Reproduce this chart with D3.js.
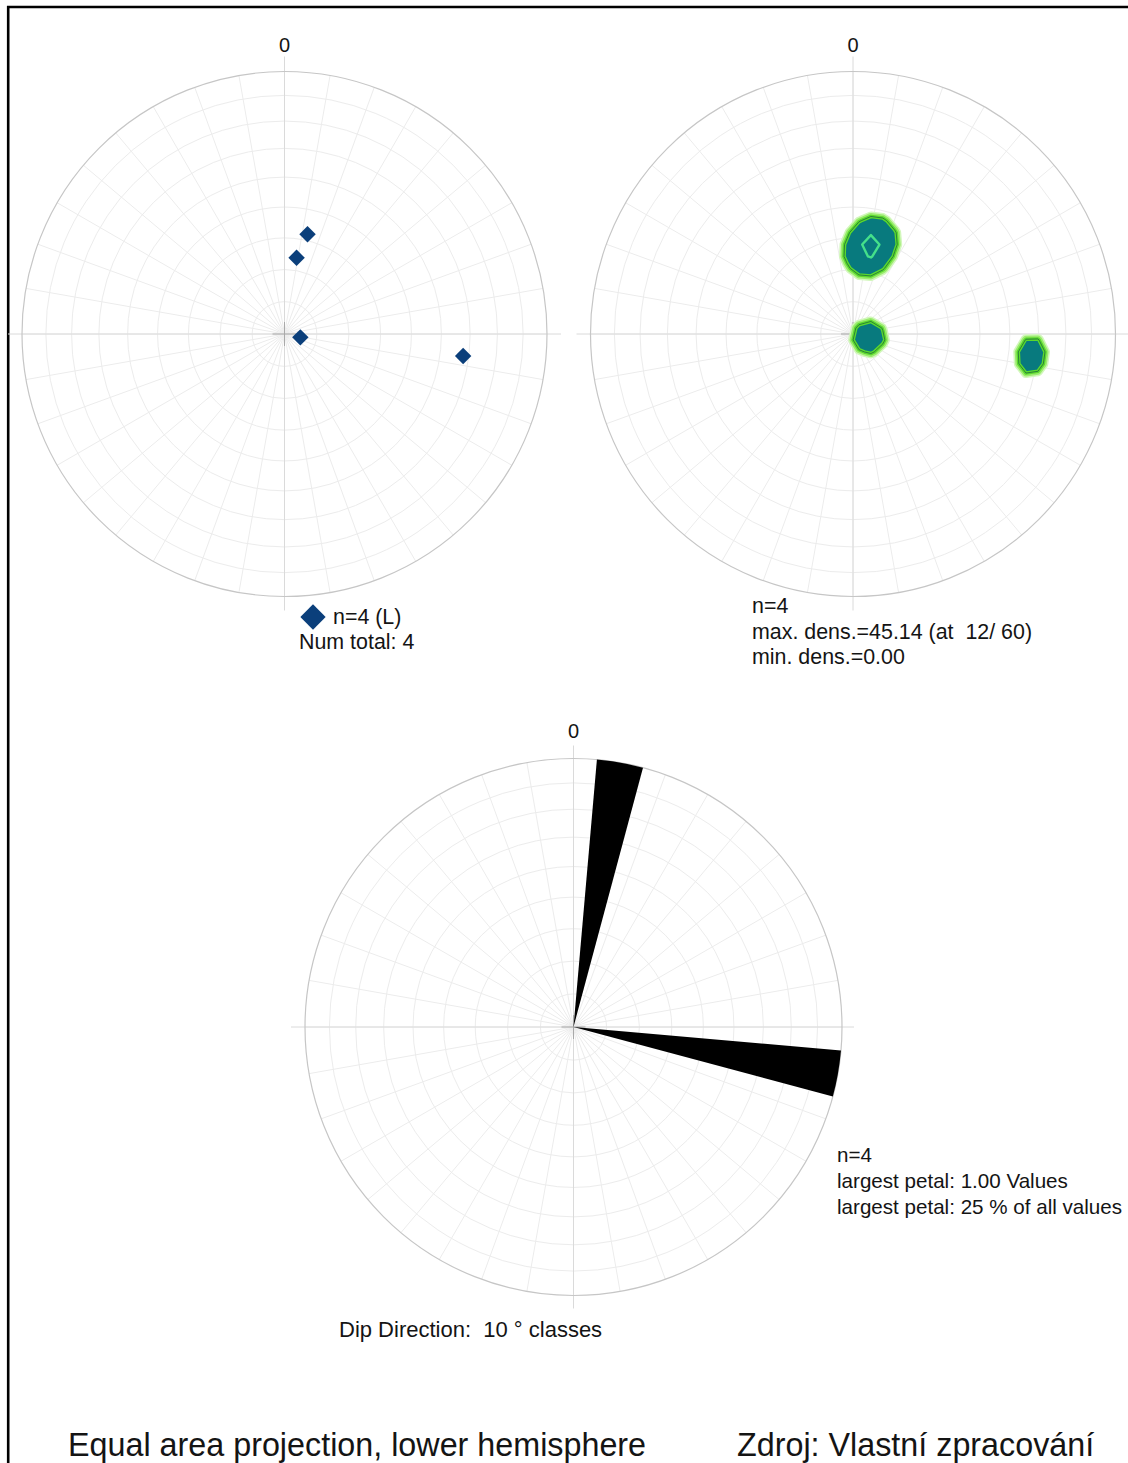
<!DOCTYPE html>
<html>
<head>
<meta charset="utf-8">
<script src="https://cdn.jsdelivr.net/npm/d3@7"></script>
<style>
  html, body { margin: 0; padding: 0; background: #fff; }
  svg { display: block; font-family: "Liberation Sans", Arial, sans-serif; }
  text { white-space: pre; fill: #141414; }
</style>
</head>
<body>
<svg id="fig" width="1128" height="1463"></svg>
<script>
// Lineation measurements (trend / plunge, degrees)
const lineTrend  = [13, 9, 102, 97];
const linePlunge = [58, 66, 85, 32];

// Density contours: levels and the reported extremes
const densityLevels = [20, 40];
const densityMax = 45.14;
const densityMin = 0.00;
const densityMaxAt = "12/ 60";

// Rose diagram of dip directions: class centres and counts per class
const classWidth = 10;
const petalCentres = [10, 100];
const petalCounts  = [1.00, 1.00];

// Net graticule: small circles every 10 deg from the centre, radials every 10 deg
const dipRings = d3.range(10, 90, 10);
const azimuths = d3.range(0, 360, 10);
const northLabel = "0";

const svg = d3.select("#fig");
const rad = Math.PI / 180;

// Equal-area (Schmidt) radial mapping: angle from vertical -> fraction of net radius
const eqArea = d3.scaleLinear().domain([0, 1]);
function eqFrac(angleFromVertical) {
  return Math.SQRT2 * Math.sin(angleFromVertical * rad / 2);
}

function drawNet(g, cx, cy, R, ext) {
  const rScale = eqArea.copy().range([0, R]);
  const grid = g.append("g").attr("fill", "none").attr("stroke", "#ececec").attr("stroke-width", 1);
  grid.selectAll("circle").data(dipRings).join("circle")
    .attr("cx", cx).attr("cy", cy)
    .attr("r", d => rScale(eqFrac(d)));
  grid.selectAll("line").data(azimuths).join("line")
    .attr("x1", cx).attr("y1", cy)
    .attr("x2", d => cx + R * Math.sin(d * rad))
    .attr("y2", d => cy - R * Math.cos(d * rad));

  // main axes reaching past the primitive circle
  const axes = g.append("g").attr("stroke", "#dadada").attr("stroke-width", 1);
  axes.append("line").attr("x1", cx).attr("x2", cx).attr("y1", cy - R - ext[0]).attr("y2", cy + R + ext[2]);
  axes.append("line").attr("x1", cx - R - ext[3]).attr("x2", cx + R + ext[1]).attr("y1", cy).attr("y2", cy);

  g.append("circle").attr("cx", cx).attr("cy", cy).attr("r", R)
    .attr("fill", "none").attr("stroke", "#c6c6c6").attr("stroke-width", 1.2);

  // centre cross
  const c = g.append("g").attr("stroke", "#a9a9a9").attr("stroke-width", 1);
  c.append("line").attr("x1", cx - 12).attr("x2", cx + 12).attr("y1", cy).attr("y2", cy);
  c.append("line").attr("x1", cx).attr("x2", cx).attr("y1", cy - 12).attr("y2", cy + 12);
}

function project(trend, plunge, cx, cy, R) {
  const rr = R * eqFrac(90 - plunge);
  return [cx + rr * Math.sin(trend * rad), cy - rr * Math.cos(trend * rad)];
}

function label(x, y, str, size, anchor) {
  return svg.append("text").attr("x", x).attr("y", y)
    .attr("font-size", size).attr("text-anchor", anchor || "start").text(str);
}

// ---------- frame ----------
svg.append("path").attr("d", "M8.2,1463 V7 H1128")
  .attr("fill", "none").attr("stroke", "#000").attr("stroke-width", 2.6);

// ---------- net 1: lineation poles ----------
const n1 = { cx: 284.5, cy: 334, R: 262.5 };
const g1 = svg.append("g");
drawNet(g1, n1.cx, n1.cy, n1.R, [15, 14, 14, 14]);
const diamond = d3.symbol().type(d3.symbolSquare);
g1.selectAll("path.pt").data(lineTrend).join("path").attr("class", "pt")
  .attr("d", diamond.size(135)())
  .attr("fill", "#0b3f7b")
  .attr("transform", (d, i) => {
    const [x, y] = project(d, linePlunge[i], n1.cx, n1.cy, n1.R);
    return `translate(${x},${y}) rotate(45)`;
  });
label(n1.cx, 52, northLabel, 20, "middle");
svg.append("path").attr("d", d3.symbol().type(d3.symbolSquare).size(320)())
  .attr("fill", "#0b3f7b").attr("transform", "translate(313,617) rotate(45)");
label(333, 624, `n=${lineTrend.length} (L)`, 21.4);
label(299, 649, `Num total: ${lineTrend.length}`, 21.4);

// ---------- net 2: density contours ----------
const n2 = { cx: 853, cy: 334, R: 262.5 };
const g2 = svg.append("g");
drawNet(g2, n2.cx, n2.cy, n2.R, [15, 20, 14, 14]);

const N = 44;
const kappa2 = 0.0104; // kernel width (rad^2)
const poles = lineTrend.map((t, i) => {
  const p = linePlunge[i] * rad, tr = t * rad;
  return [Math.cos(p) * Math.sin(tr), Math.cos(p) * Math.cos(tr), Math.sin(p)];
});
const grid = new Array(N * N).fill(0);
for (let j = 0; j < N; j++) {
  for (let i = 0; i < N; i++) {
    const ux = -1 + (i + 0.5) * 2 / N, uy = 1 - (j + 0.5) * 2 / N;
    const r = Math.hypot(ux, uy);
    if (r > 1) continue;
    const th = 2 * Math.asin(r / Math.SQRT2);
    const tr = Math.atan2(ux, uy);
    const v = [Math.sin(th) * Math.sin(tr), Math.sin(th) * Math.cos(tr), Math.cos(th)];
    let s = 0;
    for (const p of poles) {
      const dot = Math.abs(v[0] * p[0] + v[1] * p[1] + v[2] * p[2]);
      s += Math.exp((dot - 1) / kappa2);
    }
    grid[j * N + i] = s;
  }
}
const gmax = d3.max(grid);
const dens = grid.map(v => v / gmax * densityMax);
const contours = d3.contours().size([N, N]).thresholds(densityLevels)(dens);
const step = 2 * n2.R / N;
const toPx = d3.geoTransform({
  point(x, y) { this.stream.point(n2.cx - n2.R + x * step, n2.cy - n2.R + y * step); }
});
const cpath = d3.geoPath(toPx);
const outer = contours[0], inner = contours[1];
const blobs = g2.append("g").attr("stroke-linejoin", "round");
blobs.append("path").attr("d", cpath(outer)).attr("fill", "none")
  .attr("stroke", "#d2f7bc").attr("stroke-width", 10);
blobs.append("path").attr("d", cpath(outer)).attr("fill", "none")
  .attr("stroke", "#9bec6e").attr("stroke-width", 7);
blobs.append("path").attr("d", cpath(outer)).attr("fill", "#087a7e")
  .attr("stroke", "#5ad92c").attr("stroke-width", 3.6);
blobs.append("path").attr("d", cpath(outer)).attr("fill", "none")
  .attr("stroke", "#1f6a3c").attr("stroke-width", 0.8);
blobs.append("path").attr("d", cpath(inner)).attr("fill", "none")
  .attr("stroke", "#45e08a").attr("stroke-width", 2.4);

label(n2.cx, 52, northLabel, 20, "middle");
label(752, 613, `n=${lineTrend.length}`, 21.4);
label(752, 639, `max. dens.=${densityMax.toFixed(2)} (at  ${densityMaxAt})`, 21.4);
label(752, 664, `min. dens.=${densityMin.toFixed(2)}`, 21.4);

// ---------- net 3: rose of dip directions ----------
const n3 = { cx: 573.5, cy: 1027, R: 268.5 };
const g3 = svg.append("g");
drawNet(g3, n3.cx, n3.cy, n3.R, [13, 12, 13, 14]);
const petalR = d3.scaleLinear().domain([0, d3.max(petalCounts)]).range([0, n3.R]);
const arc = d3.arc().innerRadius(0);
g3.selectAll("path.petal").data(petalCentres).join("path").attr("class", "petal")
  .attr("transform", `translate(${n3.cx},${n3.cy})`)
  .attr("fill", "#000")
  .attr("d", (d, i) => arc({
    outerRadius: petalR(petalCounts[i]),
    startAngle: (d - classWidth / 2) * rad,
    endAngle: (d + classWidth / 2) * rad
  }));

label(n3.cx, 738, northLabel, 20, "middle");
const total = lineTrend.length;
const largest = d3.max(petalCounts);
label(837, 1162, `n=${total}`, 20.6);
label(837, 1188, `largest petal: ${largest.toFixed(2)} Values`, 20.6);
label(837, 1214, `largest petal: ${Math.round(largest / total * 100)} % of all values`, 20.6);
label(339, 1337, `Dip Direction:  ${classWidth} ° classes`, 22);

// ---------- captions ----------
label(68, 1456, "Equal area projection, lower hemisphere", 32.3);
label(737, 1456, "Zdroj: Vlastní zpracování", 32.3);
</script>
</body>
</html>
